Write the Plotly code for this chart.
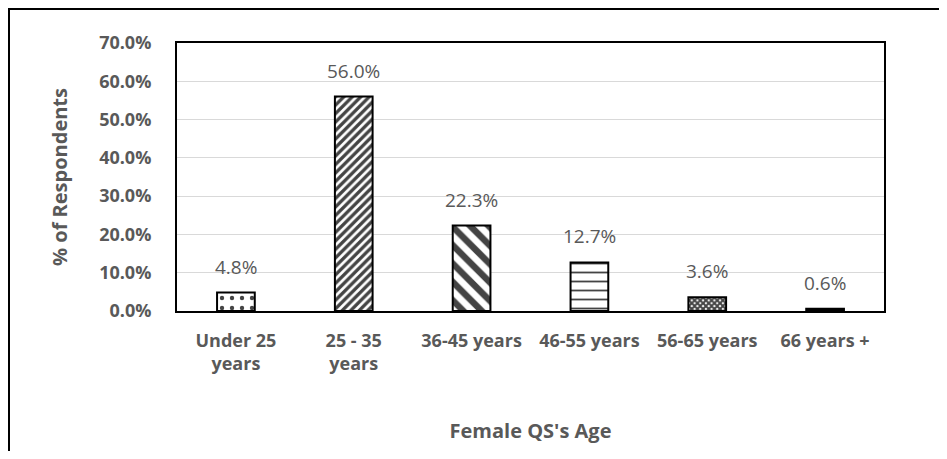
import plotly.graph_objects as go

categories = ["Under 25<br>years", "25 - 35<br>years", "36-45 years", "46-55 years", "56-65 years", "66 years +"]
values = [0.048, 0.560, 0.223, 0.127, 0.036, 0.006]
labels = ["4.8%", "56.0%", "22.3%", "12.7%", "3.6%", "0.6%"]
patterns = [".", "/", "\\", "-", "x", ""]
pattern_sizes = [10, 6, 13, 9, 4, 8]
pattern_solidity = [0.15, 0.55, 0.5, 0.2, 0.75, 0.3]
fill_colors = ["white", "white", "white", "white", "white", "black"]

GRAY = "#595959"
FONT = "Open Sans, sans-serif"

W, H = 931, 443
L, R, T, B = 169, 55, 35, 140
PW, PH = W - L - R, H - T - B

fig = go.Figure()
fig.add_trace(go.Bar(
    x=categories, y=values,
    marker=dict(
        color=fill_colors,
        line=dict(color="black", width=2),
        pattern=dict(shape=patterns, fgcolor="black", bgcolor=fill_colors, fgopacity=1,
                     size=pattern_sizes, solidity=pattern_solidity, fillmode="overlay"),
    ),
    width=0.32,
    hoverinfo="skip",
))

for c, v, t in zip(categories, values, labels):
    fig.add_annotation(x=c, y=v, text=t, showarrow=False, yanchor="bottom",
                       yshift=11, font=dict(family=FONT, size=19, color=GRAY))

fig.update_layout(
    width=W, height=H,
    margin=dict(l=L, r=R, t=T, b=B),
    paper_bgcolor="white", plot_bgcolor="white",
    showlegend=False,
    font=dict(family=FONT, color=GRAY),
    xaxis=dict(
        showline=True, linecolor="black", linewidth=2, mirror=True,
        tickfont=dict(family=FONT, size=18, color=GRAY, weight="bold"),
        ticks="", ticklabelstandoff=12,
        title=dict(text="Female QS's Age", font=dict(family=FONT, size=20, color=GRAY, weight="bold"), standoff=50),
    ),
    yaxis=dict(
        range=[0, 0.7], dtick=0.1, tickformat=".1%",
        showline=True, linecolor="black", linewidth=2, mirror=True,
        showgrid=True, gridcolor="#d9d9d9", gridwidth=1,
        zeroline=False,
        tickfont=dict(family=FONT, size=18, color=GRAY, weight="bold"),
        ticks="", ticklabelstandoff=20,
        title=dict(text="% of Respondents", font=dict(family=FONT, size=20, color=GRAY, weight="bold"), standoff=26),
    ),
)

fig.add_shape(type="rect", xref="paper", yref="paper",
              x0=-(L - 1) / PW, x1=1 + (R + 20) / PW, y0=-(B + 20) / PH, y1=1 + (T - 1) / PH,
              line=dict(color="black", width=2), layer="below")

fig.write_html("out.html")
